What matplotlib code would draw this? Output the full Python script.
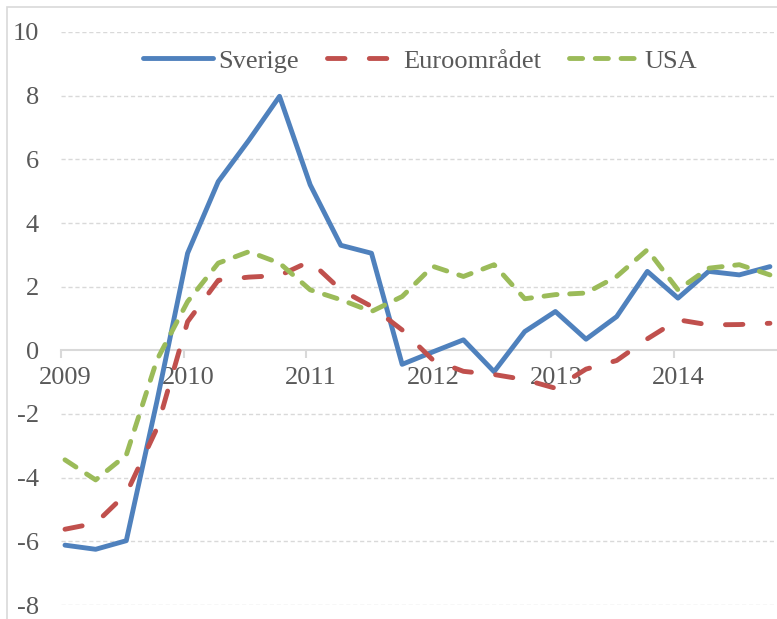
import numpy as np
import matplotlib
matplotlib.use("Agg")
import matplotlib.pyplot as plt
from matplotlib.patches import Rectangle

plt.rcParams['font.family'] = ['Liberation Serif', 'DejaVu Serif']

# kvartalsdata 2009K1 - 2014K4
years = ['2009', '2010', '2011', '2012', '2013', '2014']
sverige = [-6.12, -6.25, -5.98, -1.6, 3.05, 5.3, 6.6, 7.98, 5.2, 3.3, 3.05, -0.44,
           -0.05, 0.33, -0.67, 0.59, 1.22, 0.35, 1.06, 2.48, 1.64, 2.48, 2.37, 2.63]
euro = [-5.62, -5.43, -4.5, -2.45, 0.9, 2.2, 2.3, 2.35, 2.8, 1.9, 1.38, 0.64,
        -0.3, -0.66, -0.76, -0.92, -1.19, -0.59, -0.32, 0.36, 0.96, 0.8, 0.81, 0.85]
usa = [-3.44, -4.07, -3.29, -0.3, 1.53, 2.74, 3.1, 2.74, 1.9, 1.59, 1.22, 1.69,
       2.64, 2.32, 2.69, 1.62, 1.75, 1.8, 2.32, 3.16, 1.9, 2.58, 2.69, 2.37]

W, H = 777, 619
fig = plt.figure(figsize=(W / 100, H / 100), dpi=100)
ax = fig.add_axes([61 / W, 1 - 605 / H, (776 - 61) / W, (605 - 32) / H])

# ram runt diagrammet
fig.patches.append(Rectangle((7 / W, -0.1), 2, 1 - 7 / H + 0.1, transform=fig.transFigure,
                             fill=False, edgecolor='#d9d9d9', lw=1.2))

x = np.arange(len(sverige)) + 0.13
grey = '#595959'
lw = 3.5
fs = 19

ax.plot(x, sverige, color='#4f81bd', lw=lw, solid_capstyle='round',
        solid_joinstyle='round', label='Sverige', zorder=3)
ax.plot(x, euro, color='#c0504d', lw=lw, ls=(0, (3.6, 5.0)), dash_capstyle='round',
        label='Euroområdet', zorder=3)
ax.plot(x, usa, color='#9bbb59', lw=lw, ls=(0, (2.7, 2.6)), dash_capstyle='round',
        label='USA', zorder=3)

ax.set_ylim(-8, 10)
ax.set_xlim(0, (776 - 61) / 30.65)
ax.set_yticks(np.arange(-8, 11, 2))
ax.set_yticklabels([str(v) for v in range(-8, 11, 2)])
for v in range(-8, 11, 2):
    if v != 0:
        ax.axhline(v, color='#d9d9d9', lw=1, ls=(0, (3, 2)), zorder=1)

for s in ['top', 'right', 'left']:
    ax.spines[s].set_visible(False)
ax.spines['bottom'].set_position(('data', 0))
ax.spines['bottom'].set_color('#d9d9d9')
ax.spines['bottom'].set_linewidth(1.5)
ax.spines['bottom'].set_zorder(2)

# årsmarkeringar och etiketter
year_pos = np.arange(len(years)) * 4
ax.set_xticks(year_pos)
ax.set_xticklabels([])
ax.set_xticks(year_pos + 0.15, years, minor=True)
ax.tick_params(axis='x', which='major', length=6, width=1.5, color='#d9d9d9', direction='out')
ax.tick_params(axis='x', which='minor', length=0, pad=12, labelsize=fs, labelcolor=grey)
ax.tick_params(axis='y', length=0, pad=16, labelsize=fs, labelcolor=grey)

leg = ax.legend(loc='center', bbox_to_anchor=(420 / W, 1 - 61 / H),
                bbox_transform=fig.transFigure, ncol=3, frameon=False, fontsize=fs,
                handlelength=2.65, handletextpad=0.23, columnspacing=1.05)
for t in leg.get_texts():
    t.set_color(grey)

fig.savefig('out.png', dpi=100)
